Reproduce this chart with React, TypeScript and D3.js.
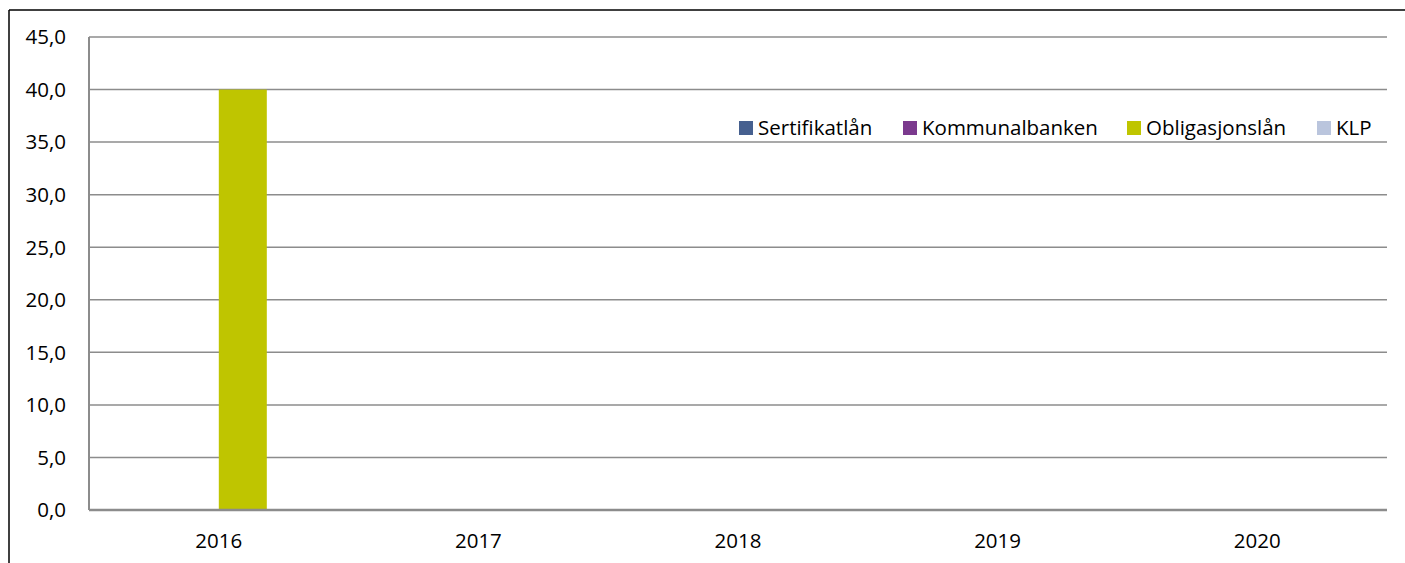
import React from "react";
import * as d3 from "d3";

const years = ["2016", "2017", "2018", "2019", "2020"];
const seriesNames = ["Sertifikatlån", "Kommunalbanken", "Obligasjonslån", "KLP"];
const sertifikatlan = [0, 0, 0, 0, 0];
const kommunalbanken = [0, 0, 0, 0, 0];
const obligasjonslan = [40, 0, 0, 0, 0];
const klp = [0, 0, 0, 0, 0];
const yTicks = [0, 5, 10, 15, 20, 25, 30, 35, 40, 45];
const colors = ["#46608F", "#7B3A8E", "#BFC500", "#BAC5DD"];
const legendX = [739, 903, 1127, 1317];

const W = 1405;
const H = 563;
const m = { left: 89, right: 1387, top: 37, bottom: 510 };
const font = "'Open Sans', 'Liberation Sans', sans-serif";
const fs = 20.5;

export default function App() {
  const values = [sertifikatlan, kommunalbanken, obligasjonslan, klp];
  const x = d3.scaleBand<string>().domain(years).range([m.left, m.right]).paddingInner(0).paddingOuter(0);
  const inner = d3
    .scaleBand<string>()
    .domain(seriesNames)
    .range([0, x.bandwidth()])
    .paddingOuter(0.704)
    .paddingInner(0);
  const y = d3.scaleLinear().domain([0, 45]).range([m.bottom, m.top]);
  const fmt = (v: number) => d3.format(".1f")(v).replace(".", ",");

  return (
    <svg width={W} height={H} style={{ position: "absolute", left: 0, top: 0 }}>
      <rect x={0} y={0} width={W} height={H} fill="#fff" />
      <line x1={9} x2={W} y1={10} y2={10} stroke="#000" strokeWidth={1.5} />
      <line x1={9} x2={9} y1={10} y2={H} stroke="#000" strokeWidth={1.5} />
      {yTicks.map((t) => (
        <g key={t}>
          {t > 0 && (
            <line x1={m.left} x2={m.right} y1={y(t)} y2={y(t)} stroke="#8C8C8C" strokeWidth={1.5} />
          )}
          <text
            x={66}
            y={y(t)}
            dy="0.36em"
            textAnchor="end"
            fontFamily={font}
            fontSize={fs}
            fill="#000"
          >
            {fmt(t)}
          </text>
        </g>
      ))}
      {years.map((yr, i) =>
        seriesNames.map((s, j) => {
          const v = values[j][i];
          if (!v) return null;
          return (
            <rect
              key={yr + s}
              x={(x(yr) as number) + (inner(s) as number)}
              width={inner.bandwidth()}
              y={y(v)}
              height={y(0) - y(v)}
              fill={colors[j]}
            />
          );
        })
      )}
      <line x1={m.left} x2={m.left} y1={m.top} y2={m.bottom} stroke="#8C8C8C" strokeWidth={2} />
      <line x1={m.left} x2={m.right} y1={m.bottom} y2={m.bottom} stroke="#8C8C8C" strokeWidth={2.5} />
      {years.map((yr) => (
        <text
          key={yr}
          x={(x(yr) as number) + x.bandwidth() / 2}
          y={548}
          textAnchor="middle"
          fontFamily={font}
          fontSize={fs}
          fill="#000"
        >
          {yr}
        </text>
      ))}
      {seriesNames.map((s, j) => (
        <g key={s}>
          <rect x={legendX[j]} y={121} width={14} height={14} fill={colors[j]} />
          <text x={legendX[j] + 19} y={135} fontFamily={font} fontSize={fs} fill="#000">
            {s}
          </text>
        </g>
      ))}
    </svg>
  );
}
